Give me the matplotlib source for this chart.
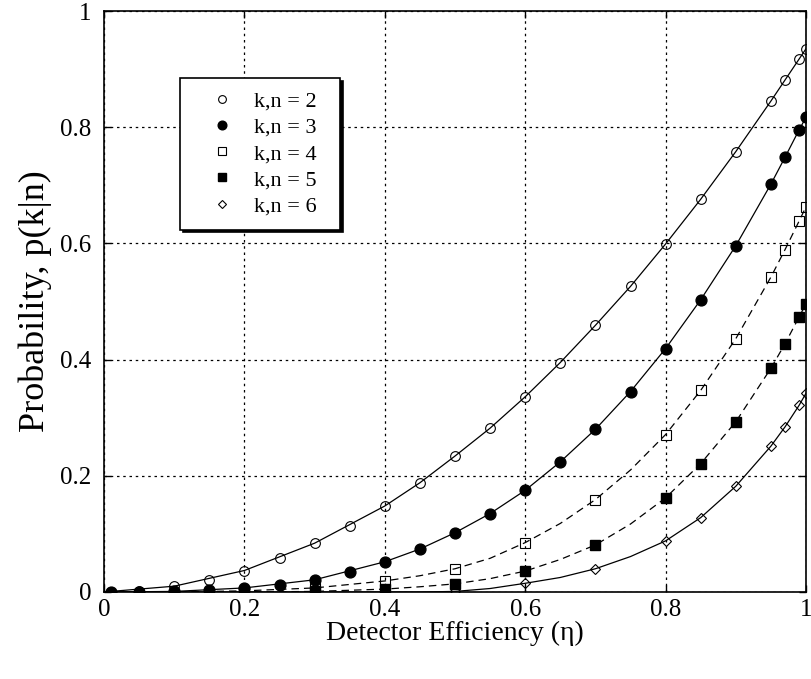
import matplotlib
matplotlib.use("Agg")
import matplotlib.pyplot as plt

plt.rcParams["font.family"] = ["Liberation Serif", "DejaVu Serif"]

# marker data
eta2 = [0.01, 0.05, 0.1, 0.15, 0.2, 0.25, 0.3, 0.35, 0.4, 0.45, 0.5, 0.55,
        0.6, 0.65, 0.7, 0.75, 0.8, 0.85, 0.9, 0.95, 0.97, 0.99, 1.0]
p2 = [0.0, 0.002, 0.010, 0.021, 0.037, 0.058, 0.084, 0.113, 0.148, 0.188,
      0.234, 0.282, 0.336, 0.395, 0.459, 0.526, 0.599, 0.676, 0.758, 0.845,
      0.881, 0.917, 0.935]

eta3 = [0.01, 0.05, 0.1, 0.15, 0.2, 0.25, 0.3, 0.35, 0.4, 0.45, 0.5, 0.55,
        0.6, 0.65, 0.7, 0.75, 0.8, 0.85, 0.9, 0.95, 0.97, 0.99, 1.0]
p3 = [0.0, 0.0, 0.001, 0.003, 0.007, 0.012, 0.021, 0.034, 0.052, 0.074,
      0.102, 0.135, 0.175, 0.224, 0.280, 0.345, 0.419, 0.503, 0.596, 0.702,
      0.748, 0.795, 0.817]

eta4 = [0.2, 0.3, 0.4, 0.5, 0.6, 0.7, 0.8, 0.85, 0.9, 0.95, 0.97, 0.99, 1.0]
p4 = [0.002, 0.007, 0.019, 0.040, 0.085, 0.159, 0.271, 0.347, 0.436, 0.542,
      0.589, 0.638, 0.663]

eta5 = [0.2, 0.3, 0.4, 0.5, 0.6, 0.7, 0.8, 0.85, 0.9, 0.95, 0.97, 0.99, 1.0]
p5 = [0.0, 0.001, 0.005, 0.014, 0.036, 0.081, 0.162, 0.221, 0.293, 0.385,
      0.427, 0.473, 0.496]

eta6 = [0.5, 0.6, 0.7, 0.8, 0.85, 0.9, 0.95, 0.97, 0.99, 1.0]
p6 = [0.001, 0.015, 0.040, 0.088, 0.128, 0.182, 0.251, 0.284, 0.321, 0.342]

# fitted curves, read at a denser set of points
curve_eta = [0.0, 0.1, 0.2, 0.3, 0.4, 0.45, 0.5, 0.55, 0.6, 0.65, 0.7, 0.75,
             0.8, 0.85, 0.9, 0.95, 0.97, 0.99, 1.0]
curve2 = [0.0, 0.010, 0.037, 0.084, 0.148, 0.188, 0.234, 0.282, 0.336, 0.395,
          0.459, 0.526, 0.599, 0.676, 0.758, 0.845, 0.881, 0.917, 0.935]
curve3 = [0.0, 0.001, 0.007, 0.021, 0.052, 0.074, 0.102, 0.135, 0.175, 0.224,
          0.280, 0.345, 0.419, 0.503, 0.596, 0.702, 0.748, 0.795, 0.817]
curve4 = [0.0, 0.0, 0.002, 0.007, 0.019, 0.028, 0.040, 0.058, 0.085, 0.118,
          0.159, 0.210, 0.271, 0.347, 0.436, 0.542, 0.589, 0.638, 0.663]
curve5 = [0.0, 0.0, 0.0, 0.001, 0.005, 0.009, 0.014, 0.023, 0.036, 0.056,
          0.081, 0.117, 0.162, 0.221, 0.293, 0.385, 0.427, 0.473, 0.496]
curve6 = [0.0, 0.0, 0.0, 0.0, 0.0, 0.0, 0.001, 0.006, 0.015, 0.025,
          0.040, 0.061, 0.088, 0.128, 0.182, 0.251, 0.284, 0.321, 0.342]

ticks = [0, 0.2, 0.4, 0.6, 0.8, 1]
tick_labels = ["0", "0.2", "0.4", "0.6", "0.8", "1"]

fig = plt.figure(figsize=(8.11, 6.79), dpi=100)
ax = fig.add_axes([104 / 811, 87 / 679, 702 / 811, 581 / 679])

dash = (0, (6, 4))
ax.plot(curve_eta, curve2, color="black", lw=0.9)
ax.plot(curve_eta, curve3, color="black", lw=0.9)
ax.plot(curve_eta, curve4, color="black", lw=0.9, ls=dash)
ax.plot(curve_eta, curve5, color="black", lw=0.9, ls=dash)
ax.plot(curve_eta, curve6, color="black", lw=0.9)

ax.plot(eta2, p2, ls="none", marker="o", ms=7, mfc="none", mec="black",
        mew=0.8, label="k,n = 2")
ax.plot(eta3, p3, ls="none", marker="o", ms=7.8, mfc="black", mec="black",
        label="k,n = 3")
ax.plot(eta4, p4, ls="none", marker="s", ms=6.5, mfc="none", mec="black",
        mew=0.8, label="k,n = 4")
ax.plot(eta5, p5, ls="none", marker="s", ms=7.8, mfc="black", mec="black",
        label="k,n = 5")
ax.plot(eta6, p6, ls="none", marker="D", ms=5.5, mfc="none", mec="black",
        mew=0.8, label="k,n = 6")

ax.set_xlim(0, 1)
ax.set_ylim(0, 1)
ax.set_xticks(ticks)
ax.set_xticklabels(tick_labels)
ax.set_yticks(ticks)
ax.set_yticklabels(tick_labels)
ax.tick_params(direction="in", length=5, width=1, top=True, right=True,
               labelsize=18)
ax.tick_params(axis="x", pad=5)
ax.tick_params(axis="y", pad=9)
ax.grid(True, color="black", lw=0.9, ls=(0, (2, 3)))
for sp in ax.spines.values():
    sp.set_linewidth(1.2)

ax.set_xlabel("Detector Efficiency (η)", fontsize=20, labelpad=0)
ax.set_ylabel("Probability, p(k|n)", fontsize=26, labelpad=6)

leg = ax.legend(loc="upper left",
                bbox_to_anchor=(180 / 811, 1 - 226 / 679, 160 / 811, 148 / 679),
                bbox_transform=fig.transFigure, mode="expand", borderaxespad=0,
                fontsize=16, markerscale=0.8, handlelength=2.6,
                handletextpad=0.15, labelspacing=0.25, borderpad=0.6,
                fancybox=False, edgecolor="black", framealpha=1,
                shadow={"color": "black", "alpha": 1})
leg.get_frame().set_linewidth(1.2)

fig.savefig("out.png", dpi=100)
